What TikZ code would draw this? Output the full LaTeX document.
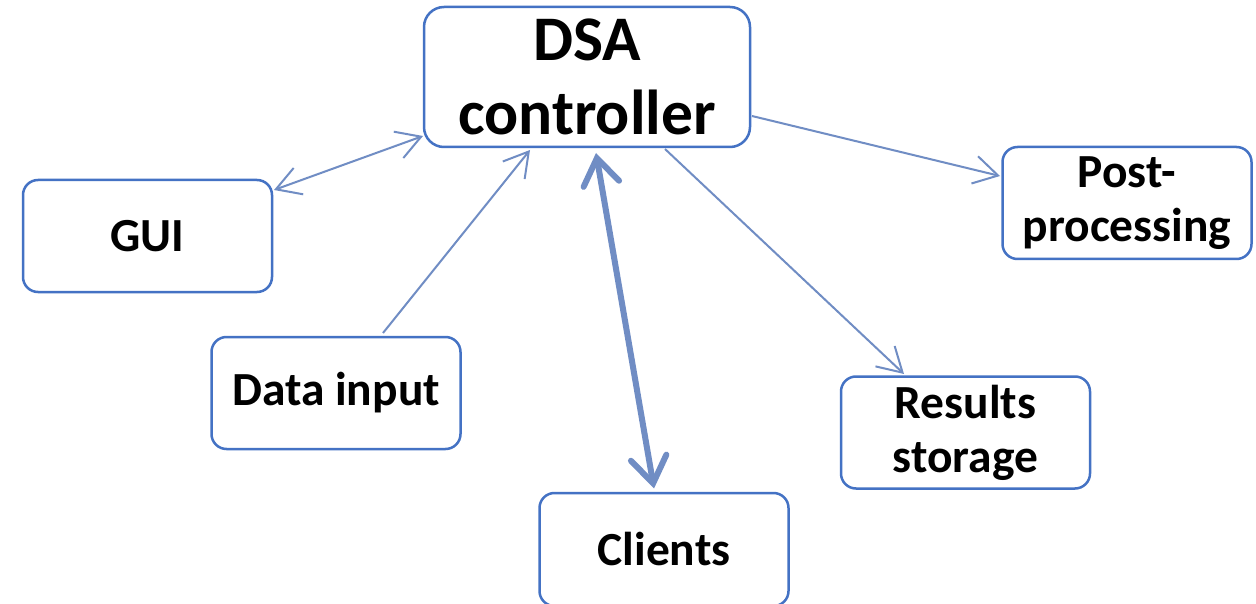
\documentclass[tikz,border=0pt]{standalone}
\usepackage{fontspec}
\setmainfont{Carlito}
\usetikzlibrary{arrows.meta}
\definecolor{boxblue}{RGB}{68,114,196}
\definecolor{arrowblue}{RGB}{112,141,196}
\tikzset{
  box/.style={draw=boxblue, line width=2.5pt, rounded corners=15pt, fill=white,
    font=\bfseries\fontsize{47.5}{54}\selectfont, align=center, inner sep=0pt,
    minimum width=249pt, minimum height=112pt},
  bigbox/.style={box, rounded corners=20pt, minimum width=326pt, minimum height=140pt,
    font=\bfseries\fontsize{63.5}{74}\selectfont},
  conn/.style={draw=arrowblue, line width=2pt},
  thick/.style={draw=arrowblue, line width=6pt, line cap=round},
}
\begin{document}
\begin{tikzpicture}[x=1pt,y=-1pt]
\clip (0,0) rectangle (1256,604);
\fill[white] (0,0) rectangle (1256,604);
\node[bigbox] (dsa) at (587,77) {DSA\\controller};
\node[box] (gui) at (147.5,236) {GUI};
\node[box] (data) at (336,393) {Data input};
\node[box, minimum height=113pt] (clients) at (664,549.5) {Clients};
\node[box] (results) at (965.5,432.5) {Results\\storage};
\node[box] (post) at (1127,203) {Post-\\processing};

\draw[conn, {Straight Barb[length=24pt,width=28pt]}-{Straight Barb[length=24pt,width=28pt]}]
  ([shift={(126.5,-46)}]gui.center) -- ([shift={(-164,59)}]dsa.center);
\draw[conn, -{Straight Barb[length=24pt,width=28pt]}]
  ([shift={(47,-60)}]data.center) -- ([shift={(-57,73)}]dsa.center);
\draw[conn, -{Straight Barb[length=24pt,width=28pt]}]
  ([shift={(78,72)}]dsa.center) -- ([shift={(-61.5,-58.5)}]results.center);
\draw[conn, -{Straight Barb[length=24pt,width=28pt]}]
  ([shift={(165,39)}]dsa.center) -- ([shift={(-127,-27)}]post.center);
\draw[thick, {Straight Barb[length=26pt,width=36pt,line cap=round]}-{Straight Barb[length=26pt,width=36pt,line cap=round]}]
  ([shift={(9,76)}]dsa.center) -- ([shift={(-10,-61)}]clients.center);
\end{tikzpicture}
\end{document}
